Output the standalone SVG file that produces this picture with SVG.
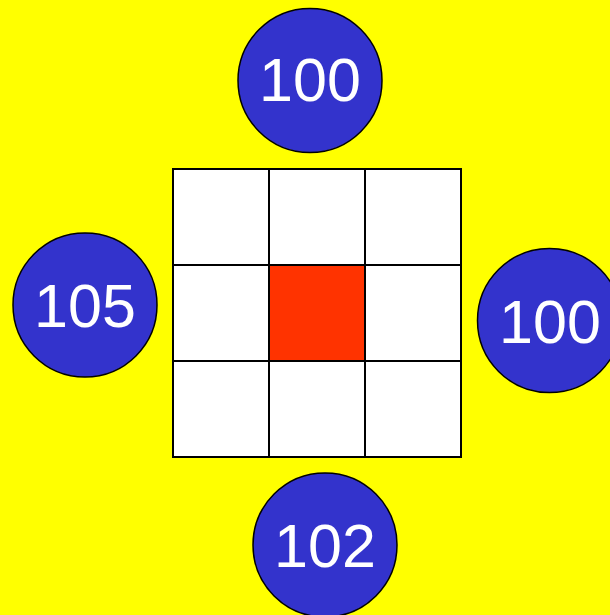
<svg xmlns="http://www.w3.org/2000/svg" width="610" height="615" viewBox="0 0 610 615">
<style>
.c{fill:#3333cc;stroke:#000;stroke-width:1.5}
.t{fill:#fff;font-family:"Liberation Sans",Arial,sans-serif;font-size:61px;text-anchor:middle}
.cell{fill:#fff;stroke:#000;stroke-width:2}
</style>
<rect width="610" height="615" fill="#ffff00"/>
<g id="grid">
<rect class="cell" x="173" y="169" width="96" height="96"/>
<rect class="cell" x="269" y="169" width="96" height="96"/>
<rect class="cell" x="365" y="169" width="96" height="96"/>
<rect class="cell" x="173" y="265" width="96" height="96"/>
<rect class="cell" x="269" y="265" width="96" height="96" style="fill:#ff3300"/>
<rect class="cell" x="365" y="265" width="96" height="96"/>
<rect class="cell" x="173" y="361" width="96" height="96"/>
<rect class="cell" x="269" y="361" width="96" height="96"/>
<rect class="cell" x="365" y="361" width="96" height="96"/>
</g>
<g id="top"><circle class="c" cx="310" cy="80.5" r="72"/><text class="t" x="310" y="101">100</text></g>
<g id="left"><circle class="c" cx="85" cy="305" r="72"/><text class="t" x="85" y="327">105</text></g>
<g id="right"><circle class="c" cx="549.5" cy="320.5" r="72"/><text class="t" x="550" y="343">100</text></g>
<g id="bottom"><circle class="c" cx="325" cy="545" r="72"/><text class="t" x="325" y="567">102</text></g>
<g id="connectors"></g>
</svg>
